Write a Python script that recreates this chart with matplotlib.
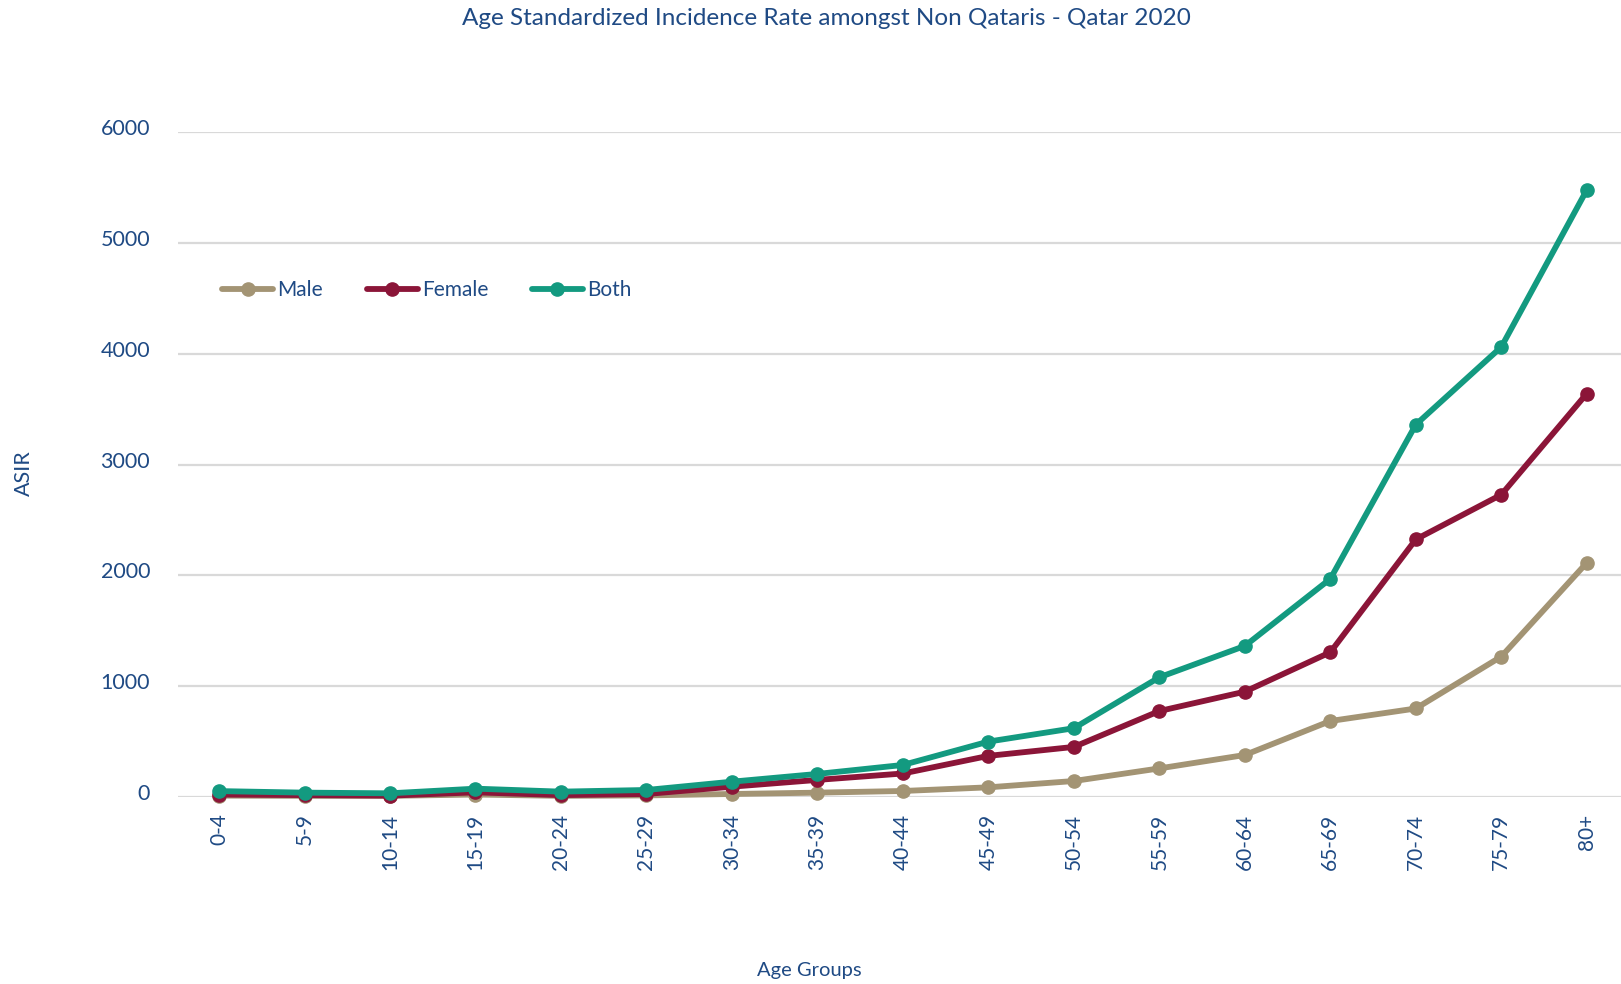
"""
Age Standardized Incidence Rate amongst Non Qataris - Qatar 2020
"""
import matplotlib
matplotlib.use("Agg")
import matplotlib.pyplot as plt
import matplotlib.transforms as mtransforms

age_groups = ["0-4", "5-9", "10-14", "15-19", "20-24", "25-29", "30-34", "35-39",
              "40-44", "45-49", "50-54", "55-59", "60-64", "65-69", "70-74", "75-79", "80+"]
male = [10, 8, 8, 20, 8, 12, 25, 37, 52, 85, 142, 256, 377, 684, 797, 1266, 2113]
female = [20, 15, 10, 40, 15, 25, 91, 152, 210, 369, 450, 774, 949, 1305, 2324, 2728, 3641]
both = [51, 37, 31, 73, 46, 61, 136, 206, 287, 498, 619, 1079, 1362, 1968, 3361, 4062, 5480]
y_ticks = [0, 1000, 2000, 3000, 4000, 5000, 6000]

navy = "#1F4A84"
colors = {"Male": "#A39474", "Female": "#8B1538", "Both": "#139A80"}

plt.rcParams["font.family"] = ["Lato", "DejaVu Sans"]

fig = plt.figure(figsize=(16.21, 9.84), dpi=100)
ax = fig.add_axes([0.1098, 0.1903, 0.8902, 0.6752])

x = list(range(len(age_groups)))
for name, vals in [("Male", male), ("Female", female), ("Both", both)]:
    ax.plot(x, vals, color=colors[name], lw=4.2, marker="o", markersize=9.5,
            label=name, clip_on=False, solid_capstyle="round", zorder=3)

ax.set_xlim(-0.48, 16.4)
ax.set_ylim(0, 6000)
ax.set_yticks(y_ticks)
ax.set_xticks(x)
ax.set_xticklabels(age_groups, rotation=90)
ax.grid(axis="y", color="#D9D9D9", lw=1.6)
ax.set_axisbelow(True)
for s in ax.spines.values():
    s.set_visible(False)
ax.tick_params(axis="both", length=0, colors=navy, labelsize=15)
ax.tick_params(axis="y", labelsize=15.5, pad=20)
ax.tick_params(axis="x", pad=12)

# y labels sit a little above their gridlines
offset = mtransforms.ScaledTranslation(0, 5 / 100, fig.dpi_scale_trans)
for lbl in ax.get_yticklabels():
    lbl.set_transform(lbl.get_transform() + offset)

fig.text(0.5096, 0.981, "Age Standardized Incidence Rate amongst Non Qataris - Qatar 2020",
         ha="center", va="center", color=navy, fontsize=17.5)
fig.text(0.015, 0.519, "ASIR", rotation=90, ha="center", va="center", color=navy, fontsize=15.5)
fig.text(0.499, 0.014, "Age Groups", ha="center", va="center", color=navy, fontsize=14.5)

leg = fig.legend(loc="center left", bbox_to_anchor=(222 / 1621, 1 - 290 / 984), ncol=3,
                 frameon=False, fontsize=15, handlelength=2.45, handletextpad=0.2,
                 columnspacing=2.1, borderpad=0, borderaxespad=0)
for t in leg.get_texts():
    t.set_color(navy)

fig.savefig("out.png", dpi=100)
